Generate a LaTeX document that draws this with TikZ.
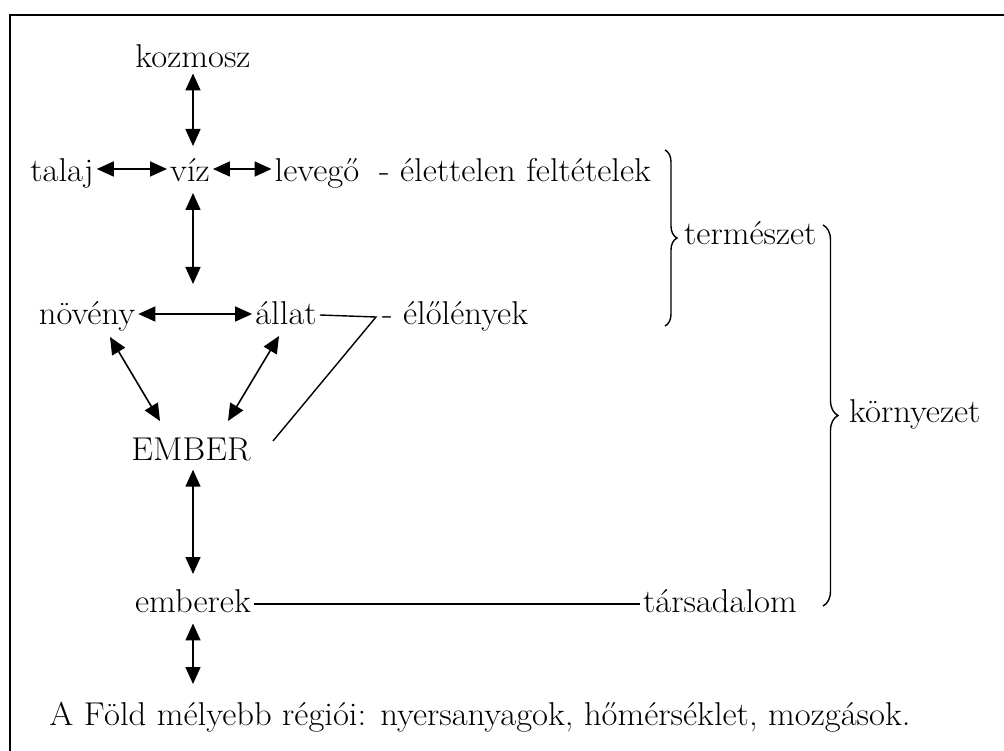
\documentclass[tikz,border=0pt]{standalone}
\usepackage{fontspec}
\setmainfont[FakeStretch=1.05]{Latin Modern Roman}
\usetikzlibrary{arrows.meta,decorations.pathreplacing}
\begin{document}
\begin{tikzpicture}[x=1pt,y=-1pt,
  lbl/.style={anchor=base,inner sep=3pt,font=\fontsize{33}{40}\selectfont},
  lblw/.style={lbl,anchor=base west},
  dbl/.style={{Triangle[length=17pt,width=15pt]}-{Triangle[length=17pt,width=15pt]},line width=1.6pt},
  plain/.style={line width=1.4pt},
  curly/.style={decorate,decoration={brace,amplitude=#1},line width=1.4pt}]
\useasboundingbox (0,0) rectangle (1004,751);
% frame edges
\draw[line width=2pt] (10,751) -- (10,15) -- (1004,15);

% nodes
\node[lbl] (koz)  at (193,68)  {kozmosz};
\node[lbl] (talaj) at (62,182) {talaj};
\node[lbl] (viz)  at (190,182) {víz};
\node[lbl] (lev)  at (317,182) {levegő};
\node[lblw] (elet) at (376,182) {- élettelen feltételek};
\node[lbl] (nov)  at (87,325)  {növény};
\node[lbl] (allat) at (286,325) {állat};
\node[lblw] (elo) at (379,325) {- élőlények};
\node[lbl] (ember) at (191,460) {EMBER};
\node[lbl] (emb)  at (193,612) {emberek};
\node[lbl] (tars) at (720,612) {társadalom};
\node[lbl] (deep) at (480,725) {A Föld mélyebb régiói: nyersanyagok, hőmérséklet, mozgások.};
\node[lblw] (term) at (681,245) {természet};
\node[lblw] (korny) at (846,422) {környezet};

\coordinate (row) at (193,284);
\coordinate (kink) at (376,317);

% arrows
\draw[dbl] (koz.south -| 193,0) ++(0,2) -- (193,146);
\draw[dbl] (talaj.east |- 0,169) -- (viz.west |- 0,169);
\draw[dbl] (viz.east |- 0,169) -- (lev.west |- 0,169);
\draw[dbl] (193,193) -- (row);
\draw[dbl] (nov.east |- 0,314) -- (allat.west |- 0,314);
\draw[dbl] (110,337) -- (160,421);
\draw[dbl] (279,336) -- (228,421);
\draw[dbl] (ember.south -| 193,0) ++(0,6) -- (193,574);
\draw[dbl] (emb.south -| 193,0) ++(0,8) -- (193,684);

% plain lines
\draw[plain] (allat.east |- 0,315) -- (kink) -- (273,441);
\draw[plain] (emb.east |- 0,604) -- (tars.west |- 0,604);

% braces
\draw[curly=12pt] (665,150) -- (665,326);
\draw[curly=15pt] (823,225) -- (823,606);
\end{tikzpicture}
\end{document}
